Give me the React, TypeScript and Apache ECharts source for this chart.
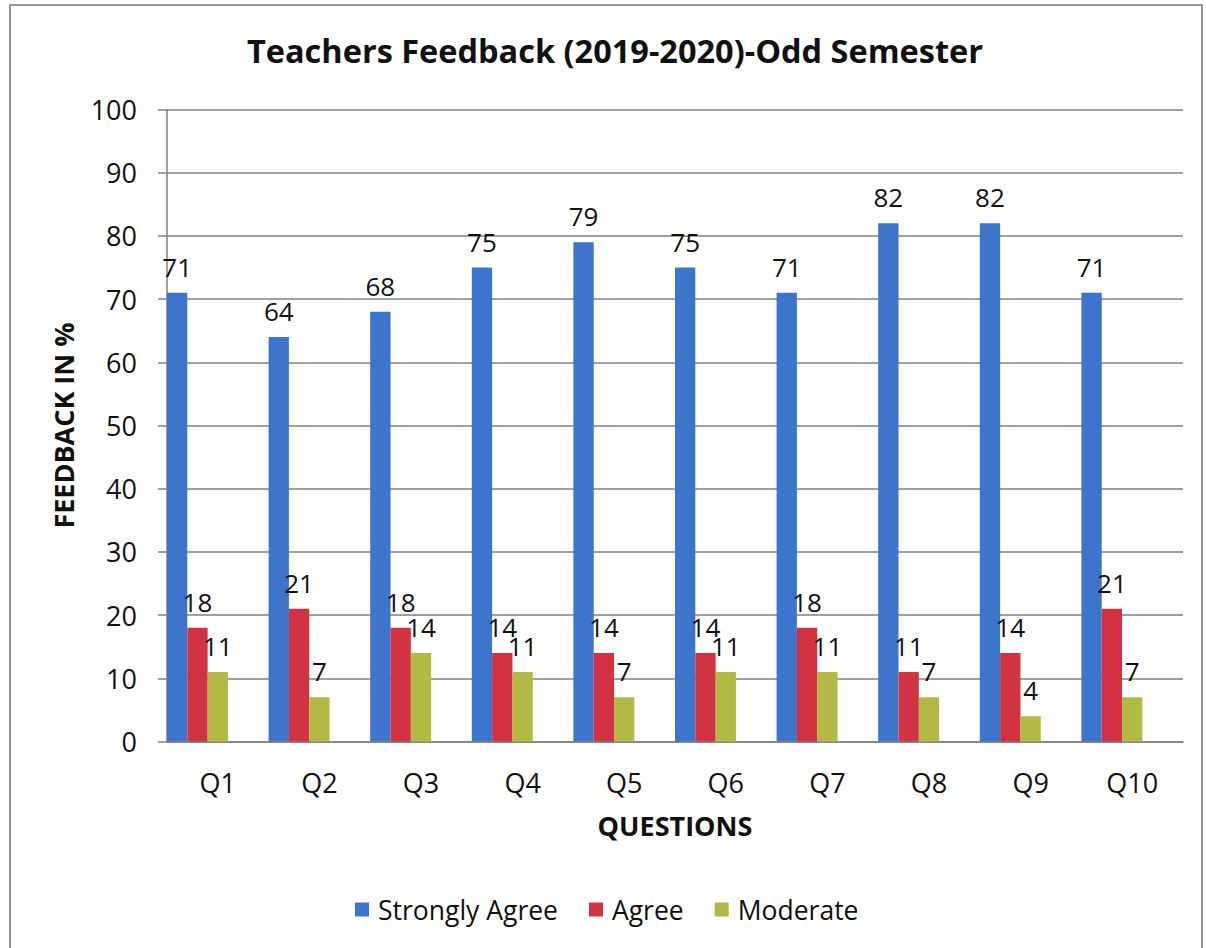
import React, { useEffect, useRef } from "react";
import * as echarts from "echarts";

const categories = ["Q1", "Q2", "Q3", "Q4", "Q5", "Q6", "Q7", "Q8", "Q9", "Q10"];
const stronglyAgree = [71, 64, 68, 75, 79, 75, 71, 82, 82, 71];
const agree = [18, 21, 18, 14, 14, 14, 18, 11, 14, 21];
const moderate = [11, 7, 14, 11, 7, 11, 11, 7, 4, 7];
// series present in the source workbook but empty (they reserve space in each group)
const disagree: number[] = [];
const stronglyDisagree: number[] = [];
const yTicks = { min: 0, max: 100, interval: 10 };

const FONT = "'Open Sans', 'Noto Sans', sans-serif";

export default function App() {
  const ref = useRef<HTMLDivElement>(null);
  useEffect(() => {
    if (!ref.current) return;
    const chart = echarts.init(ref.current, undefined, { renderer: "svg" });
    const label = {
      show: true,
      position: "top" as const,
      distance: 13,
      fontSize: 26,
      color: "#111",
      fontFamily: FONT,
    };
    chart.setOption({
      animation: false,
      backgroundColor: "#fff",
      title: {
        text: "Teachers Feedback (2019-2020)-Odd Semester",
        left: 610,
        textAlign: "center",
        top: 29,
        textStyle: { fontSize: 32.5, fontWeight: "bold", color: "#111", fontFamily: FONT },
      },
      legend: {
        data: ["Strongly Agree", "Agree", "Moderate"],
        left: 350,
        top: 891,
        itemWidth: 14,
        itemHeight: 14,
        itemGap: 31,
        icon: "rect",
        textStyle: { fontSize: 26.5, color: "#111", fontFamily: FONT, padding: [0, 0, 0, 4] },
      },
      graphic: [
        {
          type: "rect",
          shape: { x: 10, y: 5, width: 1192, height: 960 },
          style: { fill: "none", stroke: "#777", lineWidth: 1.5 },
          silent: true,
        },
      ],
      grid: { left: 167, right: 23, top: 109.5, bottom: 206.5 },
      xAxis: {
        type: "category",
        data: categories,
        name: "QUESTIONS",
        nameLocation: "middle",
        nameGap: 70,
        nameTextStyle: { fontSize: 27, fontWeight: "bold", color: "#111", fontFamily: FONT },
        axisLine: { show: true, lineStyle: { color: "#808080", width: 1.5 } },
        axisTick: { show: false },
        axisLabel: { fontSize: 27, color: "#111", margin: 27, fontFamily: FONT },
      },
      yAxis: {
        type: "value",
        min: yTicks.min,
        max: yTicks.max,
        interval: yTicks.interval,
        name: "FEEDBACK IN %",
        nameLocation: "middle",
        nameGap: 90,
        nameRotate: 90,
        nameTextStyle: { fontSize: 27, fontWeight: "bold", color: "#111", fontFamily: FONT },
        axisLine: { show: true, lineStyle: { color: "#808080", width: 1.5 } },
        axisTick: { show: true, inside: false, length: 9, lineStyle: { color: "#808080", width: 1.5 } },
        axisLabel: { fontSize: 27, color: "#111", margin: 30, fontFamily: FONT },
        splitLine: { show: true, lineStyle: { color: "#808080", width: 1.5 } },
      },
      series: [
        {
          name: "Strongly Agree",
          type: "bar",
          data: stronglyAgree,
          barGap: "0%",
          barCategoryGap: "0%",
          itemStyle: { color: "#3D74CC" },
          label,
        },
        { name: "Agree", type: "bar", data: agree, itemStyle: { color: "#D23342" }, label },
        { name: "Moderate", type: "bar", data: moderate, itemStyle: { color: "#B3B944" }, label },
        { name: "Disagree", type: "bar", data: disagree, itemStyle: { color: "#8064A2" } },
        { name: "Strongly Disagree", type: "bar", data: stronglyDisagree, itemStyle: { color: "#4BACC6" } },
      ],
    });
    return () => chart.dispose();
  }, []);
  return (
    <div
      ref={ref}
      style={{ position: "fixed", left: 0, top: 0, width: 1206, height: 948 }}
    />
  );
}
